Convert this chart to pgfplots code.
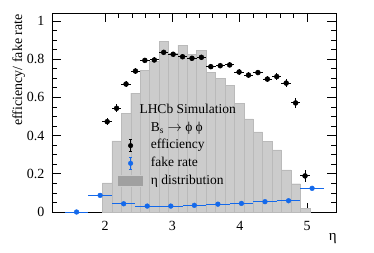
\documentclass[border=0pt]{standalone}
\usepackage{pgfplots}
\pgfplotsset{compat=1.18}
\usepackage{fontspec}
\setmainfont{Liberation Serif}
\definecolor{fakeblue}{RGB}{20,105,235}
\definecolor{histfill}{RGB}{204,204,204}
\definecolor{histline}{RGB}{186,186,186}
\definecolor{histdark}{RGB}{160,160,160}
\begin{document}
\begin{tikzpicture}
\begin{axis}[
  scale only axis, width=284bp, height=199bp,
  xmin=1.21, xmax=5.43, ymin=0, ymax=1.042,
  xtick={2,3,4,5}, ytick={0,0.2,0.4,0.6,0.8,1},
  minor x tick num=4, minor y tick num=3,
  tick align=inside,
  major tick length=9bp, minor tick length=5bp,
  axis line style={line width=0.9bp},
  every tick/.style={black, line width=0.8bp},
  /pgf/number format/assume math mode=true,
  ticklabel style={font=\fontsize{14bp}{16bp}\selectfont},
  yticklabel style={xshift=-4bp},
  xticklabel style={yshift=-6bp},
  xlabel={η}, ylabel={efficiency/ fake rate},
  xlabel style={at={(rel axis cs:1.0035,-0.1407)}, anchor=base east, inner sep=0pt, font=\fontsize{15bp}{17bp}\selectfont},
  ylabel style={at={(rel axis cs:-0.1056,0.995)}, anchor=base east, inner sep=0pt, font=\fontsize{14bp}{16bp}\selectfont},
  clip=false,
  legend style={draw=none, fill=none, inner sep=0pt, at={(rel axis cs:0.2278,0.4575)}, anchor=north west,
    font=\fontsize{13.5bp}{15bp}\selectfont, row sep=4.2bp, column sep=6.7bp,
    nodes={inner sep=0pt, text height=10bp, text depth=3.5bp}},
  legend cell align=left,
]
\addplot[ybar interval, fill=histfill, draw=histline, line width=0.4bp, forget plot] coordinates {
(1.96,0.152) (2.10,0.372) (2.24,0.517) (2.38,0.622) (2.52,0.743) (2.66,0.79)
(2.80,0.895) (2.94,0.83) (3.08,0.874) (3.22,0.825) (3.36,0.848) (3.50,0.731)
(3.64,0.70) (3.78,0.662) (3.92,0.569) (4.06,0.487) (4.20,0.42) (4.34,0.37)
(4.48,0.325) (4.62,0.22) (4.76,0.148) (4.90,0.02) (5.04,0.0)};
\addplot[fakeblue, only marks, mark=*, mark size=2.4bp, forget plot,
  error bars/.cd, x dir=both, x explicit, error bar style={line width=1bp}, error mark=none] coordinates {
(1.575,0.0) +- (0.175,0)
(1.925,0.087) +- (0.175,0)
(2.275,0.043) +- (0.175,0)
(2.625,0.031) +- (0.175,0)
(2.975,0.031) +- (0.175,0)
(3.325,0.035) +- (0.175,0)
(3.675,0.041) +- (0.175,0)
(4.025,0.045) +- (0.175,0)
(4.375,0.054) +- (0.175,0)
(4.725,0.059) +- (0.175,0)
(5.075,0.124) +- (0.175,0)};
\addplot[black, only marks, mark=*, mark size=2.5bp, forget plot,
  error bars/.cd, x dir=both, x explicit, y dir=both, y explicit, error bar style={line width=1bp}, error mark=none] coordinates {
(2.03,0.473) +- (0.07,0.02)
(2.17,0.543) +- (0.07,0.02)
(2.31,0.670) +- (0.07,0.016)
(2.45,0.738) +- (0.07,0.015)
(2.59,0.794) +- (0.07,0.013)
(2.73,0.796) +- (0.07,0.013)
(2.87,0.836) +- (0.07,0.012)
(3.01,0.826) +- (0.07,0.012)
(3.15,0.813) +- (0.07,0.012)
(3.29,0.805) +- (0.07,0.012)
(3.43,0.810) +- (0.07,0.012)
(3.57,0.761) +- (0.07,0.013)
(3.71,0.766) +- (0.07,0.013)
(3.85,0.770) +- (0.07,0.013)
(3.99,0.733) +- (0.07,0.014)
(4.13,0.717) +- (0.07,0.015)
(4.27,0.730) +- (0.07,0.015)
(4.41,0.696) +- (0.07,0.016)
(4.55,0.709) +- (0.07,0.017)
(4.69,0.675) +- (0.07,0.02)
(4.83,0.571) +- (0.07,0.026)
(4.97,0.189) +- (0.07,0.03)};
\addlegendimage{empty legend}
\addlegendentry{B\textsubscript{s} $\rightarrow$ ϕ ϕ}
\addlegendimage{legend image code/.code={
  \draw[black, line width=0.8bp] (13.3bp,-6bp) -- (13.3bp,6bp);
  \draw[black, line width=0.8bp] (11.5bp,-6bp) -- (15.1bp,-6bp) (11.5bp,6bp) -- (15.1bp,6bp);
  \fill[black] (13.3bp,0) circle (2.3bp);
  \path (0,0) (26.6bp,0);}}
\addlegendentry{efficiency}
\addlegendimage{legend image code/.code={
  \draw[fakeblue, line width=0.8bp] (13.3bp,-6bp) -- (13.3bp,6bp);
  \draw[fakeblue, line width=0.8bp] (11.5bp,-6bp) -- (15.1bp,-6bp) (11.5bp,6bp) -- (15.1bp,6bp);
  \fill[fakeblue] (13.3bp,0) circle (2.3bp);
  \path (0,0) (26.6bp,0);}}
\addlegendentry{fake rate}
\addlegendimage{legend image code/.code={
  \filldraw[fill=histdark, draw=histfill, line width=0.8bp] (0,-5.8bp) rectangle (26.6bp,5.8bp);}}
\addlegendentry{η distribution}
\node[anchor=base west, inner sep=0pt, font=\fontsize{13.5bp}{15bp}\selectfont] at (rel axis cs:0.3074,0.495) {LHCb Simulation};
\end{axis}
\pgfresetboundingbox
\path[use as bounding box] ([shift={(-52bp,-41bp)}]current axis.south west) rectangle ([shift={(38bp,13bp)}]current axis.north east);
\end{tikzpicture}
\end{document}
